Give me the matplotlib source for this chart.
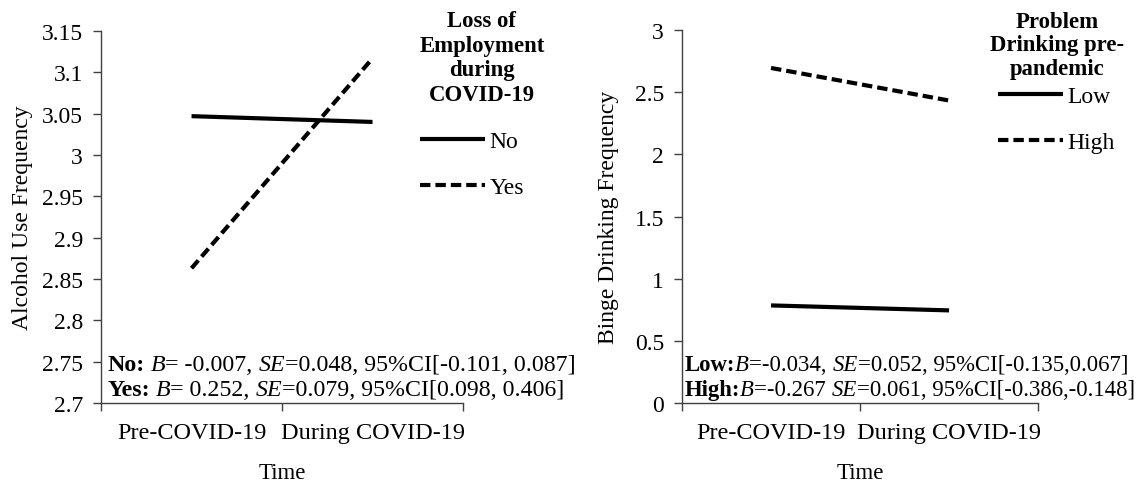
import numpy as np
import matplotlib
matplotlib.use("Agg")
import matplotlib.pyplot as plt

plt.rcParams['font.family'] = ['Liberation Serif', 'DejaVu Serif']

# datos
time_labels = ['Pre-COVID-19', 'During COVID-19']

alc_no = [3.047, 3.040]
alc_yes = [2.863, 3.117]
alc_ticks = [2.7, 2.75, 2.8, 2.85, 2.9, 2.95, 3.0, 3.05, 3.1, 3.15]

binge_low = [0.785, 0.745]
binge_high = [2.695, 2.433]
binge_ticks = [0, 0.5, 1, 1.5, 2, 2.5, 3]

left_stats = [
    [('No:', 'bold', 'normal'), (' ', 'normal', 'normal'), ('B', 'normal', 'italic'),
     ('= -0.007, ', 'normal', 'normal'), ('SE', 'normal', 'italic'),
     ('=0.048, 95%CI[-0.101, 0.087]', 'normal', 'normal')],
    [('Yes:', 'bold', 'normal'), (' ', 'normal', 'normal'), ('B', 'normal', 'italic'),
     ('= 0.252, ', 'normal', 'normal'), ('SE', 'normal', 'italic'),
     ('=0.079, 95%CI[0.098, 0.406]', 'normal', 'normal')],
]
right_stats = [
    [('Low:', 'bold', 'normal'), ('B', 'normal', 'italic'),
     ('=-0.034, ', 'normal', 'normal'), ('SE', 'normal', 'italic'),
     ('=0.052, 95%CI[-0.135,0.067]', 'normal', 'normal')],
    [('High:', 'bold', 'normal'), ('B', 'normal', 'italic'),
     ('=-0.267 ', 'normal', 'normal'), ('SE', 'normal', 'italic'),
     ('=0.061, 95%CI[-0.386,-0.148]', 'normal', 'normal')],
]

LW = 3.0
DASH = (2.5, 1.2)
FS = 17


def rich_text(ax, x, y, pieces, size=17.2):
    # escribe trozos con distinto estilo uno tras otro
    t = ax.text(x, y, pieces[0][0], transform=ax.transAxes, fontsize=size,
                fontweight=pieces[0][1], fontstyle=pieces[0][2], va='bottom', ha='left')
    for s, w, st in pieces[1:]:
        t = ax.annotate(s, xy=(1, 0), xycoords=t, fontsize=size, fontweight=w,
                        fontstyle=st, va='bottom', ha='left')


def setup_axes(ax, ticks, ylabel, label_x):
    x = np.arange(len(time_labels))
    ax.set_xlim(-0.5, 1.5)
    ax.set_ylim(ticks[0], ticks[-1])
    ax.set_yticks(ticks)
    ax.set_yticklabels(['{:g}'.format(v) for v in ticks], fontsize=FS)
    ax.set_xticks([-0.5, 0.5, 1.5])
    ax.set_xticklabels([])
    ax.set_xticks(x, minor=True)
    ax.set_xticklabels(time_labels, minor=True, fontsize=17.5)
    ax.tick_params(axis='x', which='minor', length=0, pad=14)
    ax.tick_params(axis='x', which='major', length=6, width=1, color='#404040')
    ax.tick_params(axis='y', length=6, width=1, color='#404040', pad=7)
    for sp in ['top', 'right']:
        ax.spines[sp].set_visible(False)
    for sp in ['left', 'bottom']:
        ax.spines[sp].set_color('#404040')
        ax.spines[sp].set_linewidth(1.0)
    ax.set_ylabel(ylabel, fontsize=FS)
    ax.yaxis.set_label_coords(label_x, 0.5)
    ax.set_xlabel('Time', fontsize=16.5, labelpad=13)
    return x


def make_legend(ax, handles, labels, title, tx, ty, anchor, lsp):
    ax.text(tx, ty, title, transform=ax.transAxes, fontsize=16.4, fontweight='bold',
            ha='center', va='top', multialignment='center', linespacing=lsp)
    leg = ax.legend(handles, labels, loc='upper left', bbox_to_anchor=anchor,
                    frameon=False, fontsize=FS, handlelength=2.75, handletextpad=0.2,
                    labelspacing=1.05, borderaxespad=0, borderpad=0)
    return leg


fig = plt.figure(figsize=(11.43, 4.85), dpi=100)
ax1 = fig.add_axes([0.0884, 0.167, 0.3167, 0.767])
ax2 = fig.add_axes([0.5967, 0.167, 0.3115, 0.769])

# panel izquierdo
x = setup_axes(ax1, alc_ticks, 'Alcohol Use Frequency', -0.188)
l1, = ax1.plot(x, alc_no, color='black', lw=LW, solid_capstyle='butt')
l2, = ax1.plot(x, alc_yes, color='black', lw=LW, dashes=DASH)
make_legend(ax1, [l1, l2], ['No', 'Yes'], 'Loss of\nEmployment\nduring\nCOVID-19',
            1.052, 1.056, (0.88, 0.733), 1.22)
for i, pieces in enumerate(left_stats):
    rich_text(ax1, 0.017, 0.075 - i * 0.066, pieces)

# panel derecho
x = setup_axes(ax2, binge_ticks, 'Binge Drinking Frequency', -0.177)
l3, = ax2.plot(x, binge_low, color='black', lw=LW, solid_capstyle='butt')
l4, = ax2.plot(x, binge_high, color='black', lw=LW, dashes=DASH)
make_legend(ax2, [l3, l4], ['Low', 'High'], 'Problem\nDrinking pre-\npandemic',
            1.053, 1.052, (0.888, 0.851), 1.17)
for i, pieces in enumerate(right_stats):
    rich_text(ax2, 0.008, 0.075 - i * 0.066, pieces, size=16.4)

fig.savefig('out.png', dpi=100)
